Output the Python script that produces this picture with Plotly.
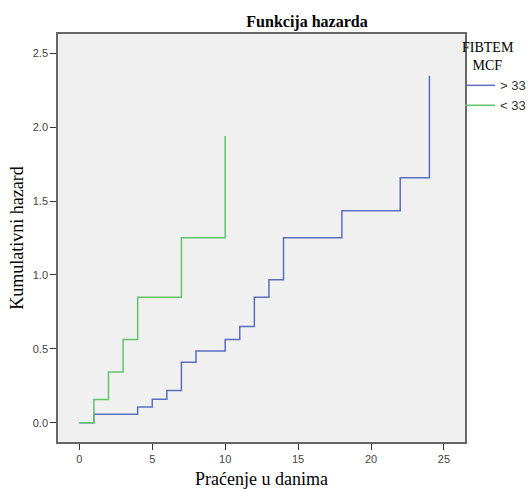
import plotly.graph_objects as go

# Data
time_hi = [0, 1, 4, 5, 6, 7, 8, 10, 11, 12, 13, 14, 18, 22, 24]
haz_hi = [0.0, 0.057, 0.106, 0.16, 0.219, 0.41, 0.485, 0.564, 0.651, 0.85, 0.967, 1.252, 1.434, 1.658, 2.348]

time_lo = [0, 1, 2, 3, 4, 7, 10]
haz_lo = [0.0, 0.158, 0.343, 0.564, 0.85, 1.252, 1.94]

series_names = ["> 33", "< 33"]
x_ticks = [0, 5, 10, 15, 20, 25]
y_ticks = [0.0, 0.5, 1.0, 1.5, 2.0, 2.5]

BLUE = "#5a6ec0"
GREEN = "#62c46c"

fig = go.Figure()
fig.add_trace(go.Scatter(x=time_hi, y=haz_hi, mode="lines", line_shape="hv",
                         line=dict(color=BLUE, width=1.5), name=series_names[0]))
fig.add_trace(go.Scatter(x=time_lo, y=haz_lo, mode="lines", line_shape="hv",
                         line=dict(color=GREEN, width=1.5), name=series_names[1]))

serif = "Liberation Serif, Times New Roman, serif"
sans = "Liberation Sans, Arial, sans-serif"

axis_common = dict(showgrid=False, zeroline=False, showline=True, mirror=True,
                   linecolor="#666666", linewidth=1.5, ticks="outside", ticklen=6,
                   tickcolor="#333333", automargin=False,
                   tickfont=dict(family=sans, size=11, color="#444444"))

fig.update_layout(
    width=531, height=489,
    margin=dict(l=58, r=66, t=34, b=47, autoexpand=False),
    paper_bgcolor="white", plot_bgcolor="#f0f0f0",
    title=dict(text="<b>Funkcija hazarda</b>", font=dict(family=serif, size=16, color="black"),
               x=307 / 531, xref="container", xanchor="center",
               y=1 - 21 / 489, yref="container", yanchor="middle", pad=dict(t=0, b=0, l=0, r=0)),
    xaxis=dict(range=[-1.46, 26.44], tickvals=x_ticks, ticktext=[str(v) for v in x_ticks],
               title=dict(text="Praćenje u danima", font=dict(family=serif, size=18, color="black"),
                          standoff=13),
               **axis_common),
    yaxis=dict(range=[-0.13, 2.63], tickvals=y_ticks, ticktext=[f"{v:.1f}" for v in y_ticks],
               title=dict(text="Kumulativni hazard", font=dict(family=serif, size=18, color="black"),
                          standoff=4),
               **axis_common),
    legend=dict(x=460 / 531, xref="container", xanchor="left",
                y=1 - 34 / 489, yref="container", yanchor="top",
                title=dict(text="FIBTEM<br>&nbsp;&nbsp;&nbsp;MCF",
                           font=dict(family=serif, size=14, color="black"), side="top"),
                font=dict(family=sans, size=13, color="#333333"),
                bgcolor="rgba(0,0,0,0)", itemwidth=30, tracegroupgap=0),
    showlegend=True,
)

fig.write_html("out.html", config={"displayModeBar": False},
               post_script="document.body.style.margin='0';document.body.style.padding='0';")
